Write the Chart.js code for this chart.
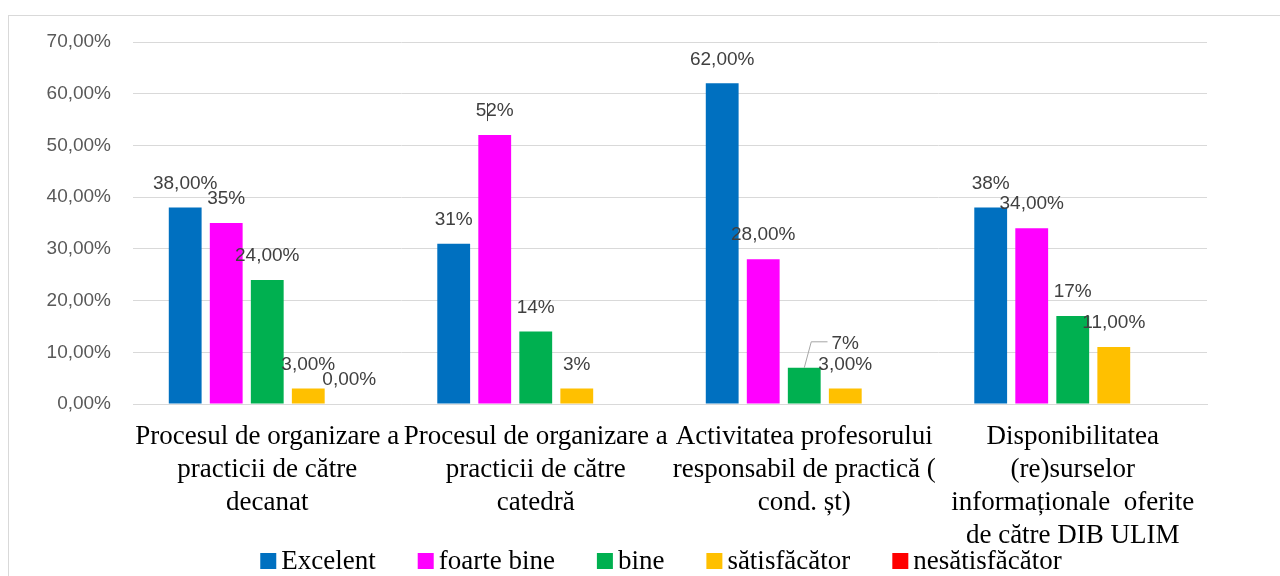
<!DOCTYPE html>
<html>
<head>
<meta charset="utf-8">
<script src="https://cdn.jsdelivr.net/npm/chart.js@4.4.1/dist/chart.umd.min.js"></script>
<style>
  html, body { margin: 0; padding: 0; background: #fff; overflow: hidden; }
  #wrap { position: relative; width: 1280px; height: 576px; }
  #frame { position: absolute; left: 8px; top: 15px; width: 1400px; height: 700px;
           border-top: 1px solid #d9d9d9; border-left: 1px solid #d9d9d9; }
  canvas { position: absolute; left: 0; top: 0; }
</style>
</head>
<body>
<div id="wrap">
  <div id="frame"></div>
  <canvas id="mychart" width="1280" height="576"></canvas>
</div>
<script>
const categorii = [
  ["Procesul de organizare a", "practicii de către", "decanat"],
  ["Procesul de organizare a", "practicii de către", "catedră"],
  ["Activitatea profesorului", "responsabil de practică (", "cond. șt)"],
  ["Disponibilitatea", "(re)surselor", "informaționale  oferite", "de către DIB ULIM"]
];
const serii = ["Excelent", "foarte bine", "bine", "sătisfăcător", "nesătisfăcător"];
const culori = ["#0070C0", "#FF00FF", "#00B050", "#FFC000", "#FF0000"];

const excelent = [38, 31, 62, 38];
const foarteBine = [35, 52, 28, 34];
const bine = [24, 14, 7, 17];
const satisfacator = [3, 3, 3, 11];
const nesatisfacator = [0, null, null, null];

// etichetele scrise deasupra barelor, exact ca in original
const excelentEtichete = ["38,00%", "31%", "62,00%", "38%"];
const foarteBineEtichete = ["35%", "52%", "28,00%", "34,00%"];
const bineEtichete = ["24,00%", "14%", "7%", "17%"];
const satisfacatorEtichete = ["3,00%", "3%", "3,00%", "11,00%"];
const nesatisfacatorEtichete = ["0,00%", null, null, null];

const valori = [excelent, foarteBine, bine, satisfacator, nesatisfacator];
const etichete = [excelentEtichete, foarteBineEtichete, bineEtichete, satisfacatorEtichete, nesatisfacatorEtichete];

const sans = '"Liberation Sans", Arial, sans-serif';
const serif = '"Liberation Serif", "Times New Roman", serif';

const eticheteBare = {
  id: 'eticheteBare',
  afterDatasetsDraw(chart) {
    const ctx = chart.ctx;
    ctx.save();
    ctx.font = '19px ' + sans;
    ctx.textAlign = 'center';
    ctx.textBaseline = 'middle';
    chart.data.datasets.forEach((ds, di) => {
      const meta = chart.getDatasetMeta(di);
      meta.data.forEach((bar, i) => {
        const txt = etichete[di][i];
        if (!txt) return;
        let x = bar.x;
        const y = bar.y - 24;
        if (di === 2 && i === 2) {
          // eticheta mutata la dreapta, cu linie de legatura
          x += 41;
          const w = ctx.measureText(txt).width;
          ctx.strokeStyle = '#a6a6a6';
          ctx.lineWidth = 1;
          ctx.beginPath();
          ctx.moveTo(bar.x, bar.y);
          ctx.lineTo(bar.x + 7, y - 2);
          ctx.lineTo(x - w / 2 - 4, y - 2);
          ctx.stroke();
        }
        ctx.fillStyle = '#404040';
        ctx.fillText(txt, x, y);
        if (di === 1 && i === 1) {
          ctx.strokeStyle = '#404040';
          ctx.lineWidth = 1;
          ctx.beginPath();
          ctx.moveTo(Math.round(bar.x - 8) + 0.5, y - 8);
          ctx.lineTo(Math.round(bar.x - 8) + 0.5, y + 10);
          ctx.stroke();
        }
      });
    });
    ctx.restore();
  }
};

const legenda = {
  id: 'legenda',
  afterDraw(chart) {
    const ctx = chart.ctx;
    ctx.save();
    ctx.font = '27px ' + serif;
    ctx.textBaseline = 'middle';
    ctx.textAlign = 'left';
    const box = 16, gap = 5, spatiu = 42;
    const latimi = chart.data.datasets.map(d => ctx.measureText(d.label).width);
    let total = latimi.reduce((a, w) => a + box + gap + w, 0) + spatiu * (latimi.length - 1);
    const ca = chart.chartArea;
    let x = (ca.left + ca.right) / 2 - 9 - total / 2;
    const y = chart.height - 15;
    chart.data.datasets.forEach((d, i) => {
      ctx.fillStyle = d.backgroundColor;
      ctx.fillRect(x, y - box / 2, box, box);
      ctx.fillStyle = '#000';
      ctx.fillText(d.label, x + box + gap, y + 1);
      x += box + gap + latimi[i] + spatiu;
    });
    ctx.restore();
  }
};

const canvas = document.getElementById('mychart');
const grafic = new Chart(canvas, {
  type: 'bar',
  data: {
    labels: categorii,
    datasets: serii.map((s, i) => ({
      label: s,
      data: valori[i],
      backgroundColor: culori[i],
      borderWidth: 0,
      categoryPercentage: 0.764,
      barPercentage: 0.8
    }))
  },
  options: {
    responsive: false,
    animation: false,
    layout: { padding: { top: 42, right: 73, bottom: 8, left: 0 } },
    plugins: {
      legend: { display: false },
      tooltip: { enabled: false }
    },
    scales: {
      x: {
        grid: { display: false, drawTicks: false },
        border: { display: true, color: '#d9d9d9' },
        ticks: {
          autoSkip: false,
          maxRotation: 0,
          minRotation: 0,
          padding: 16,
          color: '#000',
          font: { family: serif, size: 27, lineHeight: 33 / 27 }
        }
      },
      y: {
        min: 0,
        max: 70,
        afterFit(scale) { scale.width = 133; },
        grid: { color: '#d9d9d9', drawTicks: false },
        border: { display: false },
        ticks: {
          stepSize: 10,
          padding: 22,
          color: '#595959',
          font: { family: sans, size: 19 },
          callback: v => v.toFixed(2).replace('.', ',') + '%'
        }
      }
    }
  },
  plugins: [eticheteBare, legenda]
});
</script>
</body>
</html>
